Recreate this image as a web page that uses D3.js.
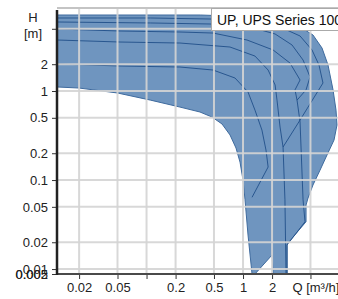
<!DOCTYPE html>
<html>
<head>
<style>
  body { margin: 0; background: #fff; }
  svg { display: block; font-family: 'Liberation Sans', Arial, sans-serif; }
</style>
</head>
<body>
<div id="chart"></div>
<script src="https://cdn.jsdelivr.net/npm/d3@7"></script>
<script>
// axis ticks
const xTicks = [0.02, 0.05, 0.1, 0.2, 0.5, 1, 2, 5];
const xTickLabels = ['0.02', '0.05', '', '0.2', '0.5', '1', '2', ''];
const yTicks = [0.002, 0.005, 0.01, 0.02, 0.05, 0.1, 0.2, 0.5, 1, 2, 5];
const yTickLabels = ['0.002', '0.005', '0.01', '0.02', '0.05', '0.1', '0.2', '0.5', '1', '2', ''];

// envelope of the range, [Q m3/h, H m], H = 0 means the curve runs out
const envelope = [
  [0.0118, 7.14], [0.36, 7.14], [1.5, 6.78], [2.72, 6.12], [3.9, 5.24], [5.31, 4.26],
  [6.59, 3.04], [7.6, 1.96], [8.57, 1.03], [9.2, 0.61], [9.42, 0.415], [8.77, 0.281],
  [7.42, 0.191], [6.28, 0.129], [5.31, 0.088], [4.72, 0.0628], [4.5, 0.0524], [4.5, 0.034],
  [2.86, 0.0191], [2.86, 0], [2.05, 0], [2.0, 0.0144], [1.33, 0], [1.24, 0],
  [1.127, 0.0241], [1.049, 0.06], [1.0, 0.1], [0.931, 0.159], [0.846, 0.229], [0.733, 0.321],
  [0.606, 0.426], [0.477, 0.51], [0.358, 0.581], [0.222, 0.66], [0.11, 0.79], [0.05, 0.95],
  [0.02, 1.08], [0.0118, 1.11]
];

// single pump curves inside the range
const curve1 = [[0.0118, 6.61], [0.11, 6.61], [0.455, 6.44], [1.18, 6.12], [2.42, 5.24], [3.9, 4.15],
  [5.19, 2.89], [6.13, 1.96], [6.74, 1.23], [3.9, 0.472], [2.6, 0.235]];
const curve2 = [[0.0118, 5.96], [0.11, 5.81], [0.455, 5.66], [1.18, 5.24], [2.15, 4.37], [3.22, 3.29],
  [4.19, 2.23], [4.95, 1.44], [4.5, 1.03], [3.63, 0.79]];
const curve3 = [[0.0118, 4.97], [0.0531, 4.72], [0.222, 4.6], [0.489, 4.48], [1.1, 3.74], [2.05, 2.89],
  [3.07, 2.06], [3.9, 1.33], [3.46, 1.03], [3.63, 0.79], [3.9, 0.449], [4.19, 0.06], [4.39, 0.034],
  [2.86, 0.0186], [2.86, 0]];
const curve4 = [[0.0118, 3.74], [0.0531, 3.55], [0.222, 3.46], [0.733, 3.12], [1.33, 2.47], [1.82, 1.72],
  [2.15, 1.17], [2.25, 0.79], [2.42, 0.394], [2.6, 0.235], [2.72, 0.06], [2.79, 0]];
const curve5 = [[0.0118, 2.01], [0.0531, 1.91], [0.222, 1.86], [0.489, 1.72], [0.826, 1.40], [1.127, 0.974],
  [1.33, 0.61], [1.57, 0.364], [1.73, 0.217], [1.82, 0.14], [1.24, 0.064]];
const curves = [curve1, curve2, curve3, curve4, curve5];

const width = 338, height = 299;
const plotLeft = 57, plotRight = 339.5, plotTop = 8, plotBottom = 274;

const svg = d3.select('#chart').append('svg')
  .attr('width', width).attr('height', height);

const x = d3.scaleLog().domain([0.0118, 10]).range([plotLeft, plotRight]);
const y = d3.scaleLog().domain([0.0088, 8.56]).range([plotBottom, plotTop]).clamp(true);

svg.append('clipPath').attr('id', 'plot')
  .append('rect').attr('x', plotLeft).attr('y', plotTop)
  .attr('width', plotRight - plotLeft).attr('height', plotBottom - plotTop);

const plot = svg.append('g').attr('clip-path', 'url(#plot)');

const line = d3.line().x(d => x(d[0])).y(d => y(d[1]));

plot.append('path')
  .attr('d', line(envelope) + 'Z')
  .attr('fill', '#6f95bf')
  .attr('stroke', '#3f6b9e')
  .attr('stroke-width', 1);

plot.selectAll('.curve')
  .data(curves)
  .enter()
  .append('path')
  .attr('class', 'curve')
  .attr('d', line)
  .attr('fill', 'none')
  .attr('stroke', '#1c4b86')
  .attr('stroke-width', 1)
  .attr('stroke-opacity', 0.85);

// grid on top of the area
plot.selectAll('.vgrid')
  .data(xTicks)
  .enter()
  .append('line')
  .attr('x1', d => x(d)).attr('x2', d => x(d))
  .attr('y1', plotTop).attr('y2', plotBottom)
  .attr('stroke', 'rgba(212,212,212,0.9)').attr('stroke-width', 2);

plot.selectAll('.hgrid')
  .data(yTicks.filter(d => d >= y.domain()[0]))
  .enter()
  .append('line')
  .attr('x1', plotLeft).attr('x2', plotRight)
  .attr('y1', d => y(d)).attr('y2', d => y(d))
  .attr('stroke', 'rgba(212,212,212,0.9)').attr('stroke-width', 2);

svg.append('line')
  .attr('x1', plotLeft).attr('x2', width)
  .attr('y1', plotTop).attr('y2', plotTop)
  .attr('stroke', '#c4c4c4').attr('stroke-width', 2);

// axes
const yAxis = svg.append('g')
  .attr('transform', `translate(${plotLeft},0)`)
  .call(d3.axisLeft(y).tickValues(yTicks).tickFormat((d, i) => yTickLabels[i]).tickSize(5).tickPadding(4));

const xAxis = svg.append('g')
  .attr('transform', `translate(0,${plotBottom})`)
  .call(d3.axisBottom(x).tickValues(xTicks).tickFormat((d, i) => xTickLabels[i]).tickSize(5).tickPadding(4));

[yAxis, xAxis].forEach(a => {
  a.select('.domain').remove();
  a.selectAll('line').attr('stroke', '#333');
  a.selectAll('text').style('font-size', '13px').attr('fill', '#222');
});

svg.append('line')
  .attr('x1', plotLeft).attr('x2', width)
  .attr('y1', plotBottom).attr('y2', plotBottom)
  .attr('stroke', '#4a4a4a').attr('stroke-width', 2);

svg.append('line')
  .attr('x1', plotLeft).attr('x2', plotLeft)
  .attr('y1', plotTop + 2).attr('y2', plotBottom + 1)
  .attr('stroke', '#222').attr('stroke-width', 2.5);

svg.append('text').text('H')
  .attr('x', 33).attr('y', 22).attr('text-anchor', 'middle')
  .style('font-size', '13px').attr('fill', '#222');
svg.append('text').text('[m]')
  .attr('x', 33).attr('y', 38).attr('text-anchor', 'middle')
  .style('font-size', '13px').attr('fill', '#222');

svg.append('text').text('Q [m³/h]')
  .attr('x', x(5) - 18).attr('y', plotBottom + 18)
  .style('font-size', '13px').attr('fill', '#222');

// legend
svg.append('rect')
  .attr('x', 211.5).attr('y', plotTop + 0.5).attr('width', 140).attr('height', 22)
  .attr('fill', '#fff').attr('stroke', '#aaa');
svg.append('text').text('UP, UPS Series 100')
  .attr('x', 217).attr('y', 24.5)
  .style('font-size', '14px').attr('fill', '#111');
</script>
</body>
</html>
